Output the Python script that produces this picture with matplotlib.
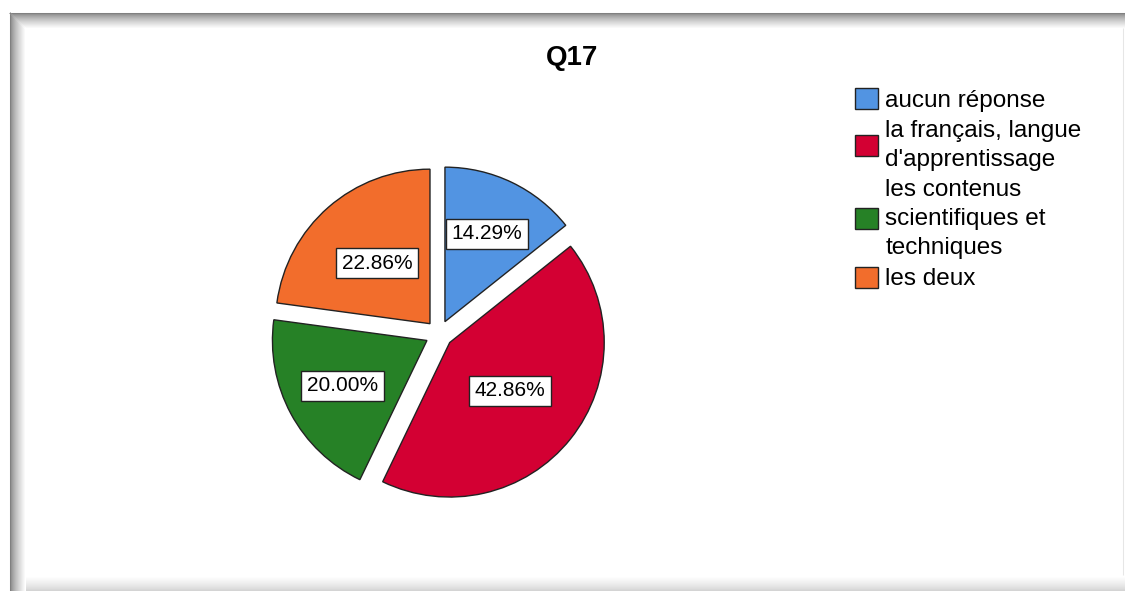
import numpy as np
import matplotlib.pyplot as plt

# data
categories = ['aucun réponse', 'la français, langue\nd\'apprentissage',
              'les contenus\nscientifiques et\ntechniques', 'les deux']
percents = [14.29, 42.86, 20.00, 22.86]
colors = ['#5294e2', '#d30033', '#268126', '#f26d2c']
label_r = [0.63, 0.50, 0.62, 0.52]

plt.rcParams['font.family'] = ['Liberation Sans', 'DejaVu Sans']

W, H = 1125, 591
fig = plt.figure(figsize=(W / 100, H / 100), dpi=100)
ax = fig.add_axes([0, 0, 1, 1])

# frame with inner shadow (top/left dark, bottom/right light)
left, top = 9, H - 12
for i in range(16):
    t = (i / 15) ** 0.7
    dark = 0.5 + 0.5 * t
    light = 0.8 + 0.2 * t
    ax.hlines(top - i - 0.5, left + i, W, color=str(dark), lw=0.75)
    ax.vlines(left + i + 0.5, 0, top - i, color=str(dark), lw=0.75)
    ax.hlines(i + 0.5, left + 16, W, color=str(light), lw=0.75)
ax.vlines(W - 2.5, 16, top - 16, color='0.9', lw=0.75)

R = 154.5
wedges, _ = ax.pie(percents, colors=colors, startangle=90, counterclock=False,
                   radius=R, center=(439, H - 334), explode=[13.7] * 4,
                   wedgeprops=dict(edgecolor='#222222', linewidth=1.0))

for w, p, rf in zip(wedges, percents, label_r):
    tm = np.deg2rad(0.5 * (w.theta1 + w.theta2))
    cx, cy = w.center
    ax.text(cx + rf * R * np.cos(tm), cy + rf * R * np.sin(tm), f'{p:.2f}%',
            ha='center', va='center', fontsize=15,
            bbox=dict(boxstyle='square,pad=0.27', fc='white', ec='#222222', lw=1))

ax.set_xlim(0, W)
ax.set_ylim(0, H)
ax.set_aspect('equal')
ax.axis('off')

fig.text(572 / W, 1 - 58 / H, 'Q17', ha='center', va='center',
         fontsize=20, fontweight='bold')

leg = fig.legend(wedges, categories, loc='upper left',
                 bbox_to_anchor=(855 / W, 1 - 88 / H), frameon=False,
                 fontsize=17.5, borderpad=0, borderaxespad=0, labelspacing=0.32,
                 handlelength=0.95, handleheight=0.95, handletextpad=0.3)
for t in leg.get_texts():
    t.set_linespacing(1.42)

fig.savefig('out.png', dpi=100)
